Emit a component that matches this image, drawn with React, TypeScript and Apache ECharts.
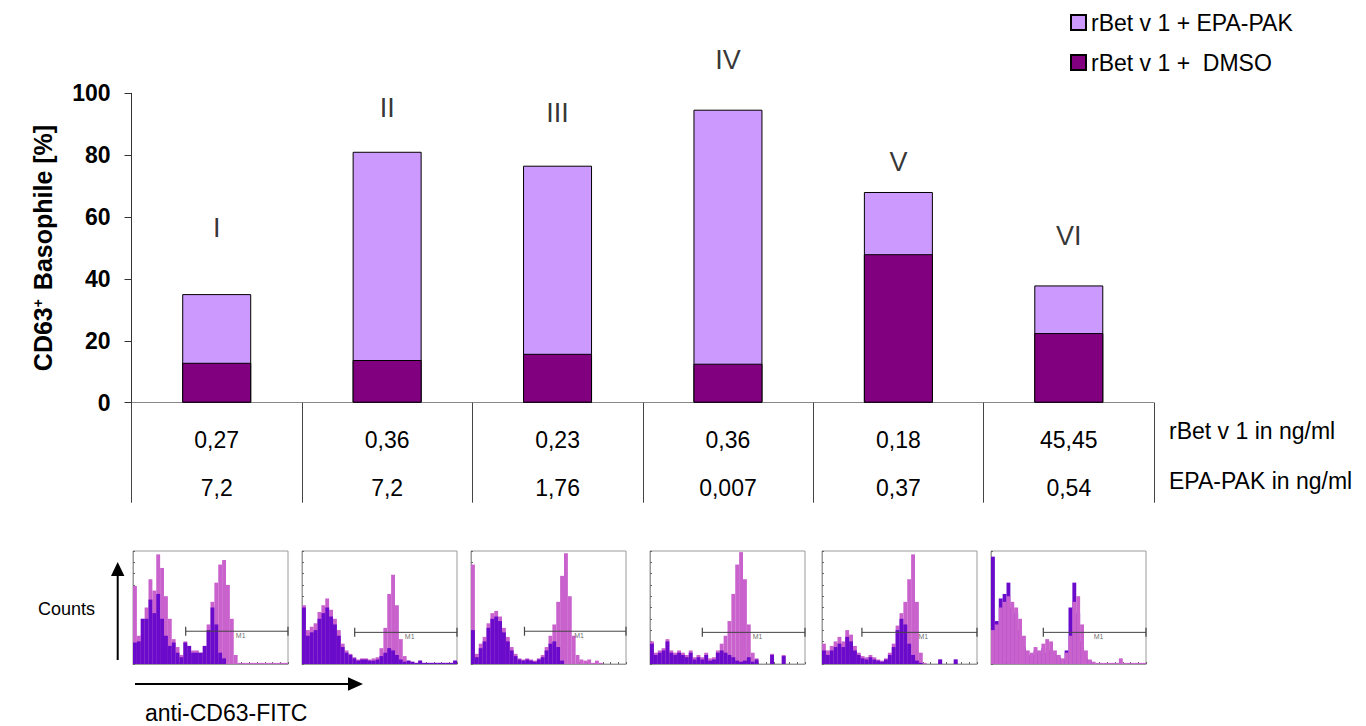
import React, { useEffect, useRef } from "react";
import * as echarts from "echarts";

// ---- main chart data ----
const categories = ["I", "II", "III", "IV", "V", "VI"];
const epaPakTotal = [35.1, 81.1, 76.6, 94.7, 68.1, 37.9];
const dmso = [12.9, 13.8, 15.8, 12.6, 48.0, 22.5];
const romanLabelY = [56.6, 95.3, 93.7, 110.9, 77.9, 54.0];
const rBetConc = ["0,27", "0,36", "0,23", "0,36", "0,18", "45,45"];
const epaPakConc = ["7,2", "7,2", "1,76", "0,007", "0,37", "0,54"];
const seriesNames = ["rBet v 1 + EPA-PAK", "rBet v 1 +  DMSO"];
const rowLabels = ["rBet v 1 in ng/ml", "EPA-PAK in ng/ml"];

// ---- flow cytometry histograms (40 bins each, % of panel height) ----
const purple1 = [19, 20, 40, 40, 57, 45, 62, 40, 25, 16, 19, 10, 6, 19, 16, 10, 10, 10, 16, 30, 50, 35, 10, 5, 0, 0, 0, 0, 0, 0, 0, 0, 0, 0, 0, 0, 0, 0, 0, 0];
const magenta1 = [69, 25, 40, 50, 75, 65, 97, 85, 60, 40, 22, 15, 8, 20, 16, 12, 12, 10, 16, 35, 55, 72, 88, 92, 70, 40, 8, 1, 1, 1, 1, 1, 1, 1, 1, 1, 1, 1, 1, 1];
const purple2 = [50, 25, 28, 30, 40, 45, 50, 42, 35, 25, 15, 10, 8, 5, 3, 4, 4, 3, 3, 4, 7, 10, 14, 12, 8, 4, 2, 3, 2, 1, 3, 1, 1, 1, 1, 1, 1, 1, 1, 3];
const magenta2 = [52, 30, 33, 36, 46, 52, 58, 48, 40, 30, 18, 12, 9, 6, 4, 5, 5, 4, 5, 6, 14, 32, 62, 79, 52, 22, 7, 3, 2, 1, 3, 1, 1, 1, 1, 1, 1, 1, 1, 3];
const purple3 = [30, 6, 14, 20, 32, 40, 42, 38, 28, 20, 12, 7, 4, 3, 4, 3, 2, 4, 6, 12, 18, 20, 15, 3, 0, 0, 0, 0, 0, 0, 0, 0, 0, 0, 0, 0, 0, 0, 0, 0];
const magenta3 = [88, 9, 18, 24, 36, 45, 47, 42, 32, 24, 15, 9, 5, 4, 5, 4, 3, 5, 8, 15, 25, 35, 55, 78, 98, 60, 25, 8, 4, 3, 4, 1, 3, 1, 0, 0, 0, 0, 0, 0];
const purple4 = [18, 8, 10, 12, 20, 10, 8, 10, 8, 6, 10, 4, 6, 4, 8, 3, 4, 10, 12, 10, 8, 6, 3, 2, 3, 6, 2, 4, 0, 0, 0, 8, 0, 0, 7, 0, 0, 0, 0, 0];
const magenta4 = [20, 10, 12, 14, 22, 12, 10, 12, 10, 8, 12, 6, 8, 6, 10, 5, 6, 12, 18, 25, 38, 62, 88, 99, 75, 35, 10, 5, 0, 0, 0, 9, 0, 0, 8, 0, 0, 0, 0, 0];
const purple5 = [12, 8, 12, 15, 18, 15, 24, 20, 12, 8, 5, 4, 6, 4, 3, 2, 4, 8, 15, 30, 40, 35, 18, 8, 3, 1, 0, 0, 0, 0, 4, 0, 0, 0, 4, 0, 0, 0, 0, 0];
const magenta5 = [18, 12, 16, 20, 24, 20, 30, 26, 16, 10, 7, 6, 8, 6, 4, 3, 5, 10, 18, 34, 45, 55, 75, 97, 55, 10, 1, 0, 0, 0, 4, 0, 0, 0, 4, 0, 0, 0, 0, 0];
const purple6 = [95, 38, 58, 62, 72, 50, 45, 30, 15, 8, 8, 12, 10, 14, 10, 12, 8, 6, 4, 12, 50, 72, 45, 20, 5, 3, 0, 0, 0, 0, 0, 0, 0, 0, 0, 0, 0, 0, 0, 0];
const magenta6 = [30, 35, 50, 55, 60, 55, 50, 40, 25, 12, 10, 15, 12, 18, 22, 20, 12, 8, 5, 10, 25, 55, 60, 35, 12, 4, 2, 1, 1, 1, 1, 1, 1, 5, 1, 1, 1, 1, 1, 1];
const purpleHists = [purple1, purple2, purple3, purple4, purple5, purple6];
const magentaHists = [magenta1, magenta2, magenta3, magenta4, magenta5, magenta6];
// M1 gate: start (in bin units, 0..40) and level (% of panel height)
const m1Start = [13.6, 13.6, 13.8, 13.5, 10.3, 13.5];
const m1End = [40, 40, 40, 40, 40, 40];
const m1Level = [29, 28, 29, 28, 28, 28];
const binLabels = Array.from({ length: 40 }, (_, i) => String(i));

const FONT = "'Liberation Sans', Arial, sans-serif";
const LIGHT = "#CC99FF";
const DARK = "#800080";
const H_PURPLE = "#6A0ACB";
const H_MAGENTA = "#C962CC";
const panelLeft = [133, 302, 471, 650, 822, 991];
const magentaOnTop = [false, false, false, false, false, true];

export default function App() {
  const ref = useRef<HTMLDivElement>(null);

  useEffect(() => {
    if (!ref.current) return;
    const chart = echarts.init(ref.current, null, { renderer: "svg" });

    const grids: any[] = [
      { left: 131.5, top: 93.3, width: 1022.5, height: 309.4, containLabel: false },
    ];
    const xAxes: any[] = [
      {
        type: "category",
        gridIndex: 0,
        data: categories,
        axisLine: { lineStyle: { color: "#888", width: 1 } },
        axisTick: { show: true, length: 100, interval: 0, lineStyle: { color: "#444", width: 1 } },
        axisLabel: {
          interval: 0,
          margin: 13,
          fontSize: 23,
          lineHeight: 48,
          color: "#000",
          fontFamily: FONT,
          formatter: (_v: string, idx: number) => rBetConc[idx] + "\n" + epaPakConc[idx],
        },
      },
    ];
    const yAxes: any[] = [
      {
        type: "value",
        gridIndex: 0,
        min: 0,
        max: 100,
        interval: 20,
        splitLine: { show: false },
        axisLine: { show: true, lineStyle: { color: "#333", width: 1 } },
        axisTick: { show: true, length: 7, lineStyle: { color: "#333" } },
        axisLabel: { fontSize: 23, fontWeight: "bold", color: "#000", margin: 21, fontFamily: FONT },
        name: "{b|CD63}{s|+}{b| Basophile [%]}",
        nameLocation: "middle",
        nameRotate: 90,
        nameGap: 76,
        nameTextStyle: {
          rich: {
            b: { fontSize: 25, fontWeight: "bold", color: "#000", fontFamily: FONT },
            s: { fontSize: 14, fontWeight: "bold", color: "#000", fontFamily: FONT, verticalAlign: "top", padding: [0, 2, 10, 0] },
          },
        },
      },
    ];
    const series: any[] = [
      {
        name: seriesNames[0],
        type: "bar",
        xAxisIndex: 0,
        yAxisIndex: 0,
        data: epaPakTotal,
        barWidth: 69,
        barGap: "-100%",
        itemStyle: { color: LIGHT, borderColor: "#000", borderWidth: 1 },
      },
      {
        name: seriesNames[1],
        type: "bar",
        xAxisIndex: 0,
        yAxisIndex: 0,
        data: dmso,
        barWidth: 69,
        barGap: "-100%",
        itemStyle: { color: DARK, borderColor: "#000", borderWidth: 1 },
      },
      {
        name: "roman",
        type: "scatter",
        xAxisIndex: 0,
        yAxisIndex: 0,
        symbolSize: 0,
        clip: false,
        silent: true,
        data: romanLabelY.map((y, i) => [i, y]),
        label: {
          show: true,
          position: "inside",
          fontSize: 27,
          color: "#000",
          fontFamily: FONT,
          formatter: (p: any) => categories[p.dataIndex],
        },
      },
    ];

    panelLeft.forEach((left, k) => {
      const gi = k + 1;
      grids.push({
        left,
        top: 551,
        width: 155,
        height: 113,
        show: true,
        borderColor: "#9a9a9a",
        borderWidth: 1,
        backgroundColor: "#fff",
      });
      xAxes.push({
        type: "category",
        gridIndex: gi,
        data: binLabels,
        axisLine: { show: true, lineStyle: { color: "#9a9a9a" } },
        axisTick: { show: true, inside: true, length: 2, interval: 1, lineStyle: { color: "#666" } },
        axisLabel: { show: false },
      });
      yAxes.push({
        type: "value",
        gridIndex: gi,
        min: 0,
        max: 100,
        interval: 10,
        splitLine: { show: false },
        axisLine: { show: true, lineStyle: { color: "#9a9a9a" } },
        axisTick: { show: true, inside: true, length: 2, lineStyle: { color: "#666" } },
        axisLabel: { show: false },
      });
      const mSeries = {
        name: "magenta" + gi,
        type: "bar",
        xAxisIndex: gi,
        yAxisIndex: gi,
        data: magentaHists[k],
        barCategoryGap: "0%",
        barGap: "-100%",
        silent: true,
        itemStyle: { color: H_MAGENTA },
      };
      const pSeries = {
        name: "purple" + gi,
        type: "bar",
        xAxisIndex: gi,
        yAxisIndex: gi,
        data: purpleHists[k],
        barCategoryGap: "0%",
        barGap: "-100%",
        silent: true,
        itemStyle: { color: H_PURPLE },
      };
      const ordered = magentaOnTop[k] ? [pSeries, mSeries] : [mSeries, pSeries];
      series.push(ordered[0], ordered[1]);
    });

    // value x-axes (0..40 bins) for the M1 gate lines
    panelLeft.forEach((_l, k) => {
      const gi = k + 1;
      const vx = xAxes.length;
      xAxes.push({ type: "value", gridIndex: gi, min: 0, max: 40, show: false });
      series.push({
        name: "M1-" + gi,
        type: "line",
        xAxisIndex: vx,
        yAxisIndex: gi,
        silent: true,
        clip: false,
        data: [
          [m1Start[k], m1Level[k]],
          [m1End[k], m1Level[k]],
        ],
        symbol: "rect",
        symbolSize: [1.2, 9],
        showSymbol: true,
        lineStyle: { color: "#444", width: 1 },
        itemStyle: { color: "#444" },
        z: 5,
      });
      series.push({
        name: "M1label-" + gi,
        type: "scatter",
        xAxisIndex: vx,
        yAxisIndex: gi,
        silent: true,
        clip: false,
        symbolSize: 0,
        data: [[(m1Start[k] + m1End[k]) / 2 + 1, m1Level[k]]],
        label: { show: true, position: "bottom", distance: 1, formatter: "M1", fontSize: 7, color: "#444", fontFamily: FONT },
        z: 5,
      });
    });

    chart.setOption({
      animation: false,
      textStyle: { fontFamily: FONT },
      legend: {
        data: seriesNames,
        orient: "vertical",
        left: 1065,
        top: 6,
        itemWidth: 15,
        itemHeight: 15,
        itemGap: 17,
        icon: "rect",
        textStyle: { fontSize: 23, color: "#000", fontFamily: FONT },
      },
      grid: grids,
      xAxis: xAxes,
      yAxis: yAxes,
      series,
      graphic: [
        { type: "text", left: 1169, top: 419, style: { text: rowLabels[0], fontSize: 23, fill: "#000", fontFamily: FONT } },
        { type: "text", left: 1169, top: 469, style: { text: rowLabels[1], fontSize: 23, fill: "#000", fontFamily: FONT } },
        { type: "text", left: 38, top: 600, style: { text: "Counts", fontSize: 18, fill: "#000", fontFamily: FONT } },
        { type: "text", left: 145, top: 701, style: { text: "anti-CD63-FITC", fontSize: 23, fill: "#000", fontFamily: FONT } },
        { type: "line", shape: { x1: 117.7, y1: 660, x2: 117.7, y2: 574 }, style: { stroke: "#000", lineWidth: 2 } },
        { type: "polygon", shape: { points: [[111, 576], [124.4, 576], [117.7, 562]] }, style: { fill: "#000" } },
        { type: "line", shape: { x1: 135, y1: 684, x2: 350, y2: 684 }, style: { stroke: "#000", lineWidth: 2 } },
        { type: "polygon", shape: { points: [[348, 677.3], [348, 690.7], [363, 684]] }, style: { fill: "#000" } },
      ],
    });

    return () => chart.dispose();
  }, []);

  return (
    <div
      ref={ref}
      style={{ position: "fixed", left: 0, top: 0, width: 1366, height: 726, background: "#fff" }}
    />
  );
}
